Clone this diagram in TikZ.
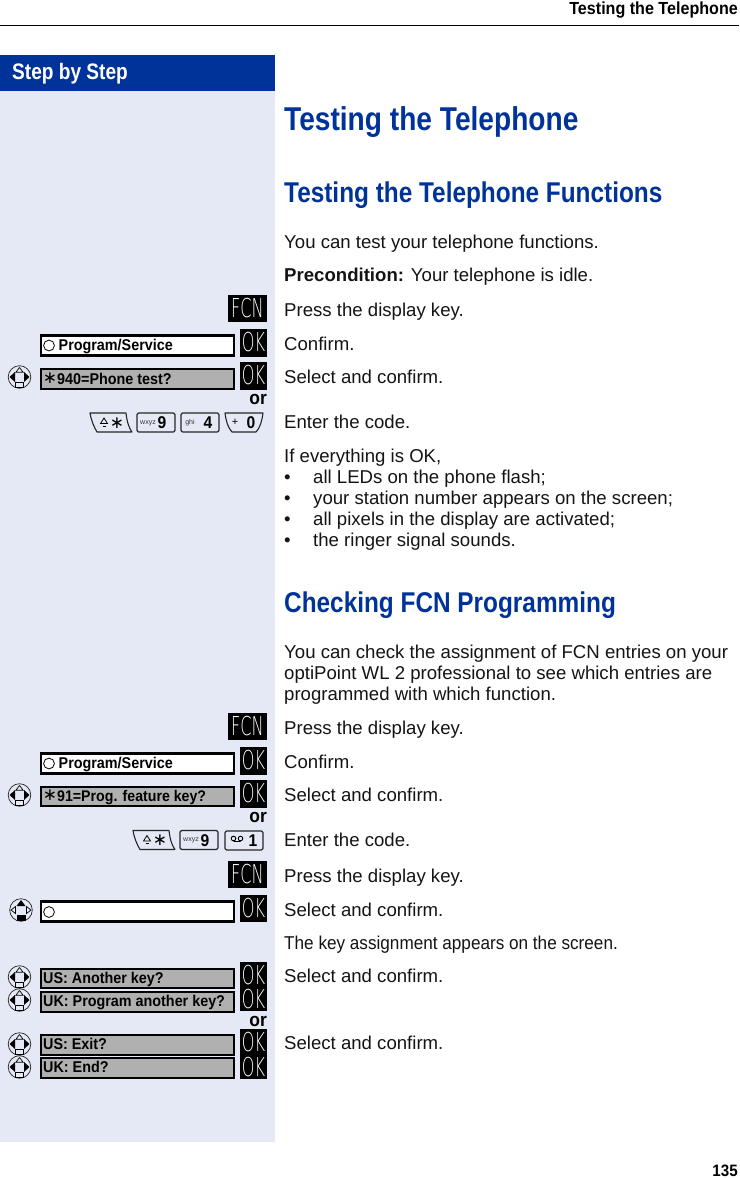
\documentclass[tikz,border=0pt]{standalone}
\usepackage{fontspec}
\setmainfont{Liberation Sans}
\newfontfamily\bodyf[FakeStretch=1.0]{Liberation Sans}
\newfontfamily\narrowf[FakeStretch=0.922]{Liberation Sans}
\newfontfamily\labf[FakeStretch=0.92]{Liberation Sans Bold}
\newfontfamily\boldf{Liberation Sans Bold}
\newfontfamily\headf[FakeStretch=0.852]{Liberation Sans Bold}
\newfontfamily\keyf[FakeStretch=0.62]{DejaVu Sans ExtraLight}
\newfontfamily\symf{DejaVu Sans}
\definecolor{bgpale}{HTML}{E4E9F5}
\definecolor{barblue}{HTML}{003399}
\definecolor{headblue}{HTML}{003399}
\definecolor{dispgrey}{HTML}{B0B0B0}
\tikzset{
  x=1pt,y=-1pt,
  bodytext/.style={anchor=base west,inner sep=0pt,font=\bodyf\fontsize{18.6}{20}\selectfont,text=black!92},
  h1text/.style={anchor=base west,inner sep=0pt,font=\headf\fontsize{33}{36}\selectfont,text=headblue},
  h2text/.style={anchor=base west,inner sep=0pt,font=\headf\fontsize{28.6}{30}\selectfont,text=headblue},
  blackkey/.style={fill=black,text=white,inner sep=0pt,minimum width=27pt,font=\keyf\fontsize{26}{26}\selectfont},
  fcnkey/.style={blackkey,minimum width=39pt,minimum height=27pt},
  dispbox/.style={draw=black,line width=2.4pt,minimum width=192.5pt,inner sep=0pt},
  dispwhite/.style={dispbox,fill=white,minimum height=20pt},
  dispgreybox/.style={dispbox,fill=dispgrey,minimum height=19.5pt},
  displabel/.style={anchor=base west,inner sep=0pt,font=\labf\fontsize{15.6}{16}\selectfont,text=black},
  ortext/.style={anchor=base east,inner sep=0pt,font=\labf\fontsize{19}{20}\selectfont},
  keycap/.style={draw=black!85,line width=1.1pt,line join=round},
  bignum/.style={inner sep=0pt,font=\labf\fontsize{17}{17}\selectfont},
  tinylab/.style={inner sep=0pt,font=\bodyf\fontsize{7}{7}\selectfont,text=black!80},
}
% navigation key: #1 x, #2 y, #3 = 1 left/right black, 2 up/down black
\newcommand{\navkey}[3]{%
  \begin{scope}[shift={(#1,#2)}]
    \draw[line width=.7pt,black!85] (0,0) circle[radius=11.3pt];
    \ifnum#3=1
      \fill (-10,0) -- (-4.5,-5) -- (-4.5,5) -- cycle;
      \fill (10,0) -- (4.5,-5) -- (4.5,5) -- cycle;
      \draw[line width=.7pt,fill=bgpale] (0,-9.5) -- (-3.6,-4.8) -- (3.6,-4.8) -- cycle;
      \draw[line width=.7pt,fill=bgpale] (-4,5.5) rectangle (4,10.5);
    \else
      \draw[line width=.7pt] (-10,0) -- (-5.5,-3.5) -- (-5.5,3.5) -- cycle;
      \draw[line width=.7pt] (10,0) -- (5.5,-3.5) -- (5.5,3.5) -- cycle;
      \fill (0,-10) -- (-4.5,-4) -- (4.5,-4) -- cycle;
      \fill (-4.5,5) rectangle (4.5,10.5);
    \fi
  \end{scope}}
% slanted star key
\newcommand{\starkey}[2]{%
  \begin{scope}[shift={(#1,#2)}]
    \draw[keycap] (0,0) -- (36,0) .. controls (37,9) and (39,15) .. (42,19) -- (7,19) .. controls (4,14) and (1,7) .. (0,0) -- cycle;
    \draw[line width=.8pt] (10.5,10.5) -- (14,5) -- (17.5,10.5) -- cycle;
    \draw[line width=.8pt] (12.5,13) -- (15.5,13);
    \node[inner sep=0pt,font=\symf\fontsize{17}{17}\selectfont] (starsym#1) at (27,10) {∗};
  \end{scope}}
% plain key
\newcommand{\plainkey}[6]{%
  \draw[keycap,rounded corners=1.5pt] (#1,#2) rectangle ++(38,19);
  \node[tinylab,anchor=center] (#3t) at (#1+#5,#2+10) {#4};
  \node[bignum,anchor=center] (#3n) at (#1+#6,#2+10) {#3};}
\begin{document}
\begin{tikzpicture}
\useasboundingbox (0,0) rectangle (739,1178);
\fill[white] (0,0) rectangle (739,1178);
% page furniture
\fill[bgpale] (0,91) rectangle (275,1142);
\fill[barblue] (0,55) rectangle (275,91);
\draw[line width=.9pt] (0,25.5) -- (739,25.5);
\node[anchor=base east,inner sep=0pt,font=\labf\fontsize{17.5}{18}\selectfont] (runhead) at (738,14) {Testing the Telephone};
\node[anchor=base east,inner sep=0pt,font=\labf\fontsize{16.5}{18}\selectfont] (pageno) at (738,1176.5) {135};
\node[anchor=base west,inner sep=0pt,text=white,font=\headf\fontsize{22.4}{24}\selectfont] (stepbar) at (12,79) {Step by Step};
% headings
\node[h1text] (h1) at (284,130) {Testing the Telephone};
\node[h2text] (h2a) at (284,202) {Testing the Telephone Functions};
\node[h2text] (h2b) at (284,612) {Checking FCN Programming};
% body text
\node[bodytext] (t1) at (284,248) {You can test your telephone functions.};
\node[bodytext] (t2) at (284,281) {\boldf Precondition: \bodyf Your telephone is idle.};
\node[bodytext] (t3) at (284,316) {Press the display key.};
\node[bodytext] (t4) at (284,350) {Confirm.};
\node[bodytext] (t5) at (284,383) {Select and confirm.};
\node[bodytext] (t6) at (284,428) {Enter the code.};
\node[bodytext] (t7) at (284,462) {If everything is OK,};
\foreach \yy/\tt in {483/all LEDs on the phone flash;,504/your station number appears on the screen;,525/all pixels in the display are activated;,546/the ringer signal sounds.}{
  \node[bodytext] (bu\yy) at (284,\yy) {•};
  \node[bodytext] (bt\yy) at (313,\yy) {\tt};
}
\node[bodytext] (t8) at (284,658) {You can check the assignment of FCN entries on your};
\node[bodytext] (t9) at (284,679) {optiPoint WL 2 professional to see which entries are};
\node[bodytext] (t10) at (284,700) {programmed with which function.};
\node[bodytext] (t11) at (284,734) {Press the display key.};
\node[bodytext] (t12) at (284,768) {Confirm.};
\node[bodytext] (t13) at (284,801) {Select and confirm.};
\node[bodytext] (t14) at (284,846) {Enter the code.};
\node[bodytext] (t15) at (284,882) {Press the display key.};
\node[bodytext] (t16) at (284,916) {Select and confirm.};
\node[bodytext] (t17) at (284,949) {\narrowf The key assignment appears on the screen.};
\node[bodytext] (t18) at (284,982) {Select and confirm.};
\node[bodytext] (t19) at (284,1049) {Select and confirm.};
% black keys
\node[fcnkey] (f1) at (247.5,308.5) {FCN};
\node[blackkey,minimum height=28pt] (k1) at (253.5,342.5) {OK};
\node[blackkey,minimum height=28pt] (k2) at (253.5,375.5) {OK};
\node[fcnkey] (f2) at (247.5,726.5) {FCN};
\node[blackkey,minimum height=28pt] (k3) at (253.5,760.5) {OK};
\node[blackkey,minimum height=28pt] (k4) at (253.5,793.5) {OK};
\node[fcnkey] (f3) at (247.5,874.5) {FCN};
\node[blackkey,minimum height=27pt] (k5) at (253.5,908.5) {OK};
\node[blackkey,minimum height=26pt] (k6) at (253.5,975) {OK};
\node[blackkey,minimum height=24pt] (k7) at (253.5,999) {OK};
\node[blackkey,minimum height=27pt] (k8) at (253.5,1042.5) {OK};
\node[blackkey,minimum height=23pt] (k9) at (253.5,1067.5) {OK};
% or
\node[ortext] (o1) at (267,404) {or};
\node[ortext] (o2) at (267,822) {or};
\node[ortext] (o3) at (267,1026) {or};
% displays
\node[dispwhite] (d1) at (137.5,345.5) {};
\draw[line width=.8pt] (49,345.5) circle[radius=5.4pt];
\node[displabel] (l1) at (58.5,350.5) {Program/Service};
\node[dispgreybox] (d2) at (137.5,379) {};
\node[inner sep=0pt,font=\symf\fontsize{17}{17}\selectfont] (a2) at (50,378) {∗};
\node[displabel] (l2) at (57,384) {940=Phone test?};
\node[dispwhite] (d3) at (137.5,763.5) {};
\draw[line width=.8pt] (49,763.5) circle[radius=5.4pt];
\node[displabel] (l3) at (58.5,768.5) {Program/Service};
\node[dispgreybox] (d4) at (137.5,796.5) {};
\node[inner sep=0pt,font=\symf\fontsize{17}{17}\selectfont] (a4) at (50,795.5) {∗};
\node[displabel,font=\labf\fontsize{15.4}{16}\selectfont] (l4) at (57,801.5) {91=Prog. feature key?};
\node[dispwhite] (d5) at (137.5,911.5) {};
\draw[line width=.8pt] (49,912) circle[radius=5.4pt];
\node[dispgreybox] (d6) at (137.5,978.5) {};
\node[displabel] (l6) at (43,983) {US: Another key?};
\node[dispgreybox] (d7) at (137.5,1002) {};
\node[displabel] (l7) at (43,1006) {UK: Program another key?};
\node[dispgreybox] (d8) at (137.5,1045) {};
\node[displabel] (l8) at (43,1049) {US: Exit?};
\node[dispgreybox] (d9) at (137.5,1068) {};
\node[displabel] (l9) at (43,1072) {UK: End?};
% navigation keys
\navkey{19.5}{377}{1}
\navkey{19.5}{795}{1}
\navkey{21}{910}{2}
\navkey{19.5}{977}{1}
\navkey{19.5}{1000}{1}
\navkey{19.5}{1044}{1}
\navkey{19.5}{1067}{1}
% code keys, first row
\starkey{90}{413}
\plainkey{137}{413}{9}{wxyz}{11}{25}
\plainkey{181}{413}{4}{ghi}{9}{27}
\begin{scope}[shift={(225,413)}]
  \draw[keycap] (0,0) -- (38,0) .. controls (37,8) and (35,15) .. (31,19) -- (7,19) .. controls (3,15) and (1,8) .. (0,0) -- cycle;
  \node[inner sep=0pt,font=\bodyf\fontsize{11}{11}\selectfont] (plus0) at (10,9) {+};
  \node[bignum] (zero0) at (26,9.5) {0};
\end{scope}
% code keys, second row
\starkey{133}{830.5}
\plainkey{180}{830.5}{9}{wxyz}{11}{25}
\draw[keycap,rounded corners=1.5pt] (225,831) rectangle ++(38,19);
\draw[line width=.9pt] (233.5,838.5) circle[radius=2.3pt] (240.5,838.5) circle[radius=2.3pt] (233.5,841.5) -- (240.5,841.5);
\node[bignum] (one1) at (253,841) {1};
\end{tikzpicture}
\end{document}
